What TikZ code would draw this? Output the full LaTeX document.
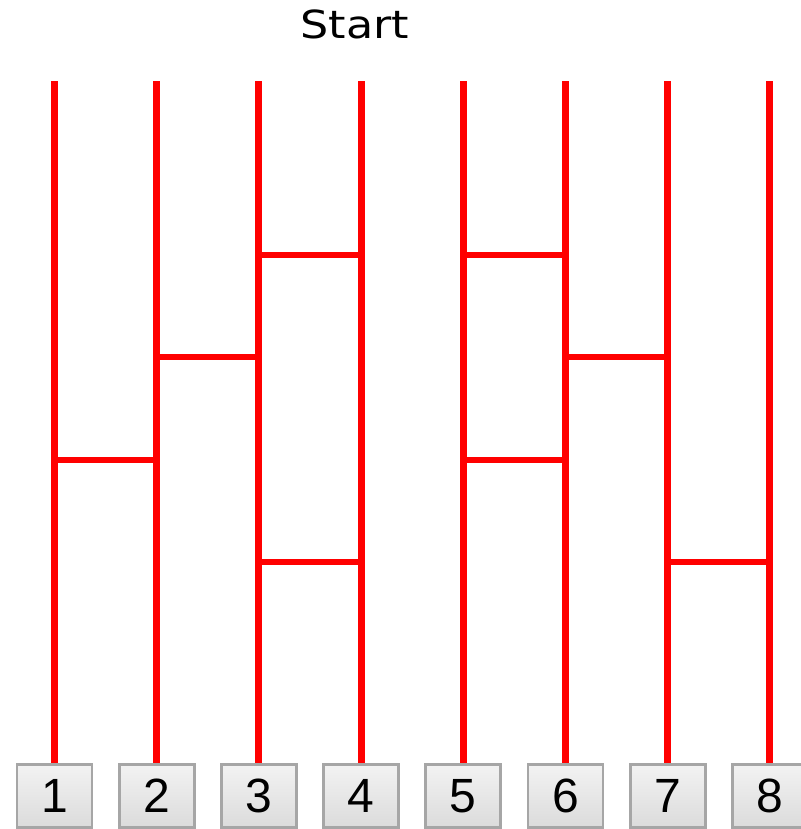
\documentclass[tikz,border=0pt]{standalone}
\usepackage{fontspec}
\setmainfont{Liberation Sans}
\newfontfamily\startfont{DejaVu Sans}
\usetikzlibrary{positioning}

\begin{document}
\begin{tikzpicture}[
        x=0.03cm, y=-0.03cm,
        rail/.style={draw=red, line width=6pt},
        rung/.style={draw=red, line width=5.1pt},
        key/.style={
            draw=gray!70, line width=2.5pt,
            top color=gray!10, bottom color=gray!28,
            minimum width=2.25cm, minimum height=1.89cm,
            inner sep=0pt,
            font=\fontsize{41}{41}\selectfont
        },
        title/.style={
            font=\startfont\fontsize{33}{33}\selectfont,
            inner sep=0pt
        }
    ]

    \useasboundingbox (0,0) rectangle (800,829);

    \node[title, anchor=base] (start) at (355,38) {\scalebox{1.15}[1]{Start}};

    % rails and keys
    \foreach \i in {1,...,8} {
        \node[key] (key\i) at ({54.5+102.2*(\i-1)},796) {\i};
        \coordinate (top\i) at ({54.5+102.2*(\i-1)},81);
        \draw[rail] (top\i) -- (key\i.north);
        \foreach \l in {1,...,4}
            \coordinate (p\i-\l) at ({54.5+102.2*(\i-1)},{255+102.3*(\l-1)});
    }

    % rungs
    \draw[rung] (p1-3) -- (p2-3);
    \draw[rung] (p2-2) -- (p3-2);
    \draw[rung] (p3-1) -- (p4-1);
    \draw[rung] (p3-4) -- (p4-4);
    \draw[rung] (p5-1) -- (p6-1);
    \draw[rung] (p5-3) -- (p6-3);
    \draw[rung] (p6-2) -- (p7-2);
    \draw[rung] (p7-4) -- (p8-4);

\end{tikzpicture}
\end{document}
